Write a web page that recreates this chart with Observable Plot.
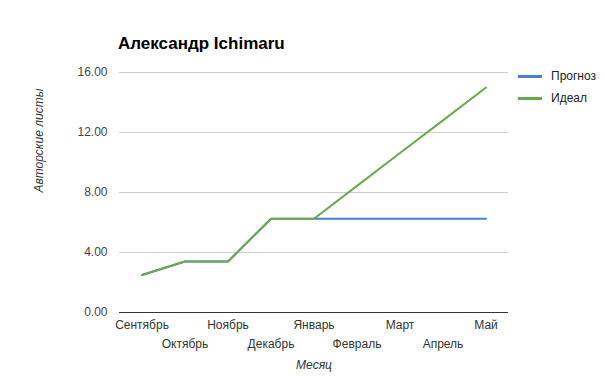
<!DOCTYPE html>
<html>
<head>
<meta charset="utf-8">
<script src="https://cdn.jsdelivr.net/npm/d3@7"></script>
<script src="https://cdn.jsdelivr.net/npm/@observablehq/plot@0.6"></script>
<style>
  body { margin: 0; background: #fff; font-family: Arial, "Liberation Sans", sans-serif; }
  #wrap { position: relative; width: 605px; height: 381px; }
  #title { position: absolute; left: 118px; top: 34px; font-size: 17px; font-weight: bold; color: #000; }
  .leg { position: absolute; left: 518px; font-size: 12px; color: #222; display: flex; align-items: center; }
  .leg span.sw { display: inline-block; width: 24px; height: 3px; margin-right: 9px; }
</style>
</head>
<body>
<div id="wrap">
  <div id="chart"></div>
  <div id="title">Александр Ichimaru</div>
  <div class="leg" style="top:69px"><span class="sw" style="background:#4a7fd8"></span>Прогноз</div>
  <div class="leg" style="top:91px"><span class="sw" style="background:#6aa84f"></span>Идеал</div>
</div>
<script>
const months = ["Сентябрь","Октябрь","Ноябрь","Декабрь","Январь","Февраль","Март","Апрель","Май"];
const forecast = [2.5, 3.4, 3.4, 6.25, 6.25, 6.25, 6.25, 6.25, 6.25];
const ideal = [2.5, 3.4, 3.4, 6.25, 6.25, 8.44, 10.63, 12.81, 15.0];
const yTicks = [0, 4, 8, 12, 16];
const seriesNames = ["Прогноз", "Идеал"];
const seriesColors = ["#4a7fd8", "#6aa84f"];

const rows = [];
months.forEach((m, i) => {
  rows.push({month: m, value: forecast[i], series: seriesNames[0]});
  rows.push({month: m, value: ideal[i], series: seriesNames[1]});
});
const evenMonths = months.filter((d, i) => i % 2 === 0);
const oddMonths = months.filter((d, i) => i % 2 === 1);

const chart = Plot.plot({
  width: 605,
  height: 381,
  marginLeft: 119,
  marginRight: 97,
  marginTop: 72,
  marginBottom: 69,
  style: {fontFamily: "Arial, 'Liberation Sans', sans-serif", fontSize: "12px", color: "#444", background: "#fff"},
  x: {type: "band", domain: months, padding: 0, axis: null},
  y: {domain: [0, 16], axis: null},
  color: {domain: seriesNames, range: seriesColors},
  marks: [
    Plot.gridY(yTicks.filter(d => d !== 0), {stroke: "#cccccc", strokeOpacity: 1, strokeWidth: 1}),
    Plot.axisY({ticks: yTicks, tickSize: 0, tickPadding: 12, tickFormat: d => d.toFixed(2), fill: "#444", fontSize: 12, label: null}),
    Plot.text(["Авторские листы"], {frameAnchor: "left", dx: -80, rotate: -90, fontStyle: "italic", fill: "#333", fontSize: 12}),
    Plot.axisX({ticks: evenMonths, tickSize: 0, tickPadding: 8, fill: "#333", fontSize: 12, label: null}),
    Plot.axisX({ticks: oddMonths, tickSize: 0, tickPadding: 27, fill: "#333", fontSize: 12, label: null}),
    Plot.text(["Месяц"], {frameAnchor: "bottom", dy: 56, fontStyle: "italic", fill: "#333", fontSize: 12}),
    Plot.ruleY([0], {stroke: "#333", strokeWidth: 1}),
    Plot.line(rows, {x: "month", y: "value", stroke: "series", z: "series", strokeWidth: 2})
  ]
});
document.getElementById("chart").appendChild(chart);
</script>
</body>
</html>
